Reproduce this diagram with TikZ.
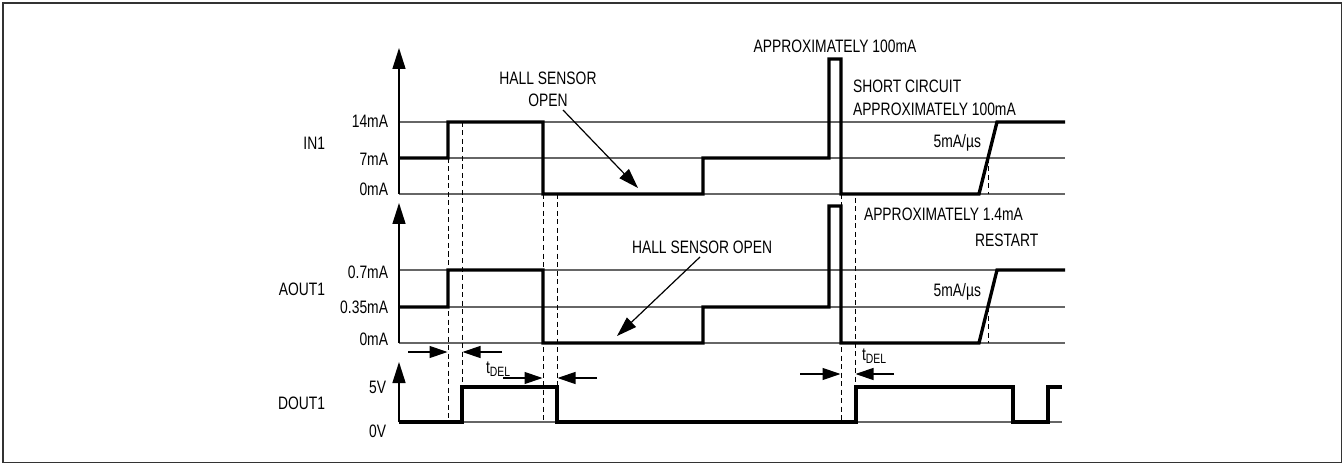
\documentclass[tikz,border=0pt]{standalone}
\usepackage{fontspec}
\setmainfont{Liberation Sans}[FakeStretch=0.77]
\usetikzlibrary{arrows.meta}
\newcommand\lblfont{\fontsize{18}{22}\selectfont}
\newcommand\tdellbl{t\raisebox{-3pt}{\fontsize{13.5}{13.5}\selectfont DEL}}
\begin{document}
\begin{tikzpicture}[x=1pt,y=-1pt,
  every node/.style={font=\lblfont, inner sep=0pt, outer sep=0pt},
  sig/.style={line width=3.3pt, line join=miter},
  gridln/.style={line width=1.3pt, black!60},
  axisln/.style={line width=1.5pt, -{Triangle[length=21pt,width=13pt]}},
  dsh/.style={line width=1pt, dash pattern=on 5pt off 3.5pt},
  tdel/.style={line width=1.2pt, -{Triangle[length=18pt,width=12pt]}},
  callout/.style={line width=1.2pt, -{Triangle[length=20pt,width=13pt]}},
  frameln/.style={line width=1.6pt, black!80}
]
\useasboundingbox (0,0) rectangle (1344,465);
\draw[frameln] (3,3) rectangle (1341.5,462.5);

% grid lines
\foreach \yy in {122,158,194,270,307,343}
  \draw[gridln] (399,\yy) -- (1065,\yy);
\draw[gridln] (399,422) -- (1062,422);

% axes
\draw[axisln] (399,194) -- (399,48);
\draw[axisln] (399,343) -- (399,203);
\draw[axisln] (399,422) -- (399,362);

% dashed timing lines
\draw[dsh] (448,158) -- (448,422);
\draw[dsh] (462,122) -- (462,387);
\draw[dsh] (543,194) -- (543,422);
\draw[dsh] (557,194) -- (557,387);
\draw[dsh] (841,194) -- (841,422);
\draw[dsh] (855,198) -- (855,387);
\draw[dsh] (988,158) -- (988,194);
\draw[dsh] (988,307) -- (988,343);

% signals
\draw[sig] (399,158) -- (448,158) -- (448,122) -- (543,122) -- (543,194) -- (703,194) -- (703,158) -- (829,158) -- (829,59) -- (841,59) -- (841,194) -- (979,194) -- (997,122) -- (1065,122);
\draw[sig] (399,307) -- (448,307) -- (448,270) -- (543,270) -- (543,343) -- (703,343) -- (703,307) -- (829,307) -- (829,206) -- (841,206) -- (841,343) -- (979,343) -- (997,270) -- (1065,270);
\draw[sig] (399,422) -- (462,422) -- (462,387) -- (557,387) -- (557,422) -- (856,422) -- (856,387) -- (1013,387) -- (1013,422) -- (1048,422) -- (1048,387) -- (1062,387);

% left labels
\node[anchor=base east] (in1) at (325,150) {IN1};
\node[anchor=base east] (aout1) at (325,295) {AOUT1};
\node[anchor=base east] (dout1) at (325,409) {DOUT1};
\node[anchor=base east] (l14) at (388,128) {14mA};
\node[anchor=base east] (l7) at (388,166) {7mA};
\node[anchor=base east] (l0a) at (388,196) {0mA};
\node[anchor=base east] (l07) at (388,278) {0.7mA};
\node[anchor=base east] (l035) at (388,313) {0.35mA};
\node[anchor=base east] (l0b) at (388,345) {0mA};
\node[anchor=base east] (l5v) at (386,393) {5V};
\node[anchor=base east] (l0v) at (386,437) {0V};

% annotations
\node[anchor=base] (hs1a) at (548,85) {HALL SENSOR};
\node[anchor=base] (hs1b) at (548,107) {OPEN};
\coordinate (hs1s) at (563,110);
\coordinate (hs1t) at (638,188);
\draw[callout] (hs1s) -- (hs1t);

\node[anchor=base west] (hs2) at (632,254) {HALL SENSOR OPEN};
\coordinate (hs2s) at (700,257);
\coordinate (hs2t) at (617,336);
\draw[callout] (hs2s) -- (hs2t);

\node[anchor=base] (ap1) at (835,53) {APPROXIMATELY 100mA};
\node[anchor=base west] (sc) at (853,93) {SHORT CIRCUIT};
\node[anchor=base west] (ap2) at (853,116) {APPROXIMATELY 100mA};
\node[anchor=base east] (sr1) at (981,148) {5mA/µs};
\node[anchor=base west] (ap3) at (864,221) {APPROXIMATELY 1.4mA};
\node[anchor=base west] (rs) at (975,247) {RESTART};
\node[anchor=base east] (sr2) at (981,296) {5mA/µs};

% t_DEL markers
\node[anchor=base west] (td1) at (486,373) {\tdellbl};
\draw[tdel] (408,352) -- (447.5,352);
\draw[tdel] (502,352) -- (462.5,352);
\draw[tdel] (503,378) -- (542.5,378);
\draw[tdel] (597,378) -- (557.5,378);

\node[anchor=base west] (td2) at (862,360) {\tdellbl};
\draw[tdel] (800,374) -- (840.5,374);
\draw[tdel] (894,374) -- (855.5,374);
\end{tikzpicture}
\end{document}
